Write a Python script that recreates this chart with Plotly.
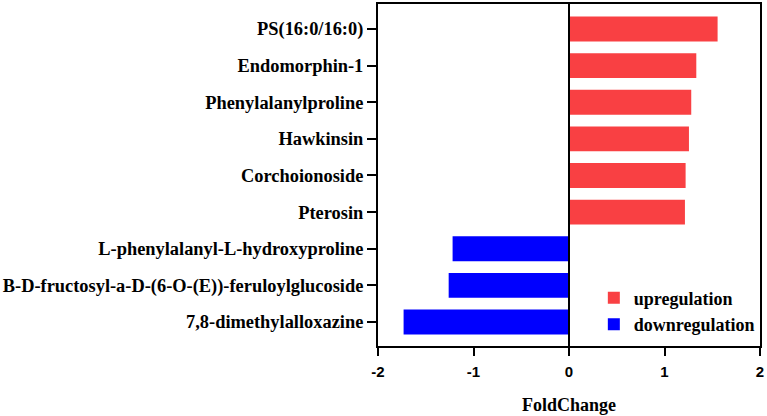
import plotly.graph_objects as go

up_names = ["PS(16:0/16:0)", "Endomorphin-1", "Phenylalanylproline", "Hawkinsin",
            "Corchoionoside", "Pterosin"]
up_values = [1.556, 1.333, 1.28, 1.256, 1.221, 1.214]
down_names = ["L-phenylalanyl-L-hydroxyproline",
              "B-D-fructosyl-a-D-(6-O-(E))-feruloylglucoside",
              "7,8-dimethylalloxazine"]
down_values = [-1.219, -1.26, -1.732]
x_ticks = [-2, -1, 0, 1, 2]

order = (up_names + down_names)[::-1]

serif = "Liberation Serif"
sans = "Liberation Sans"

fig = go.Figure()
fig.add_trace(go.Bar(y=up_names, x=up_values, orientation="h", name="upregulation",
                     marker=dict(color="rgb(249,64,67)", line=dict(width=0)), width=0.68))
fig.add_trace(go.Bar(y=down_names, x=down_values, orientation="h", name="downregulation",
                     marker=dict(color="rgb(0,0,255)", line=dict(width=0)), width=0.68))

fig.add_shape(type="line", xref="x", yref="y domain", x0=0, x1=0, y0=0, y1=1,
              line=dict(color="black", width=2), layer="above")

fig.update_layout(
    width=767, height=416,
    margin=dict(l=378, r=7, t=4, b=70),
    plot_bgcolor="white", paper_bgcolor="white",
    barmode="relative",
    showlegend=True,
    legend=dict(x=0.565, y=0.194, xanchor="left", yanchor="top",
                font=dict(family=serif, size=18, color="black", weight="bold"),
                bgcolor="rgba(0,0,0,0)", tracegroupgap=0),
    xaxis=dict(range=[-2, 2], tickvals=x_ticks, ticktext=[str(v) for v in x_ticks],
               automargin=False,
               ticks="outside", ticklen=8, tickwidth=2, tickcolor="black",
               showline=True, linewidth=2, linecolor="black", mirror=True,
               showgrid=False, zeroline=False, ticklabelstandoff=3,
               tickfont=dict(family=sans, size=15, color="black", weight="bold"),
               title=dict(text="FoldChange", standoff=19,
                          font=dict(family=serif, size=18, color="black", weight="bold"))),
    yaxis=dict(type="category", categoryorder="array", categoryarray=order,
               range=[-0.656, 8.683], automargin=False,
               ticks="outside", ticklen=9, tickwidth=2, tickcolor="black",
               showline=True, linewidth=2, linecolor="black", mirror=True,
               showgrid=False, zeroline=False,
               tickfont=dict(family=serif, size=18.4, color="black", weight="bold")),
)

fig.write_html("out.html", config={"displayModeBar": False},
               post_script="document.body.style.margin='0';document.body.style.overflow='hidden';")
